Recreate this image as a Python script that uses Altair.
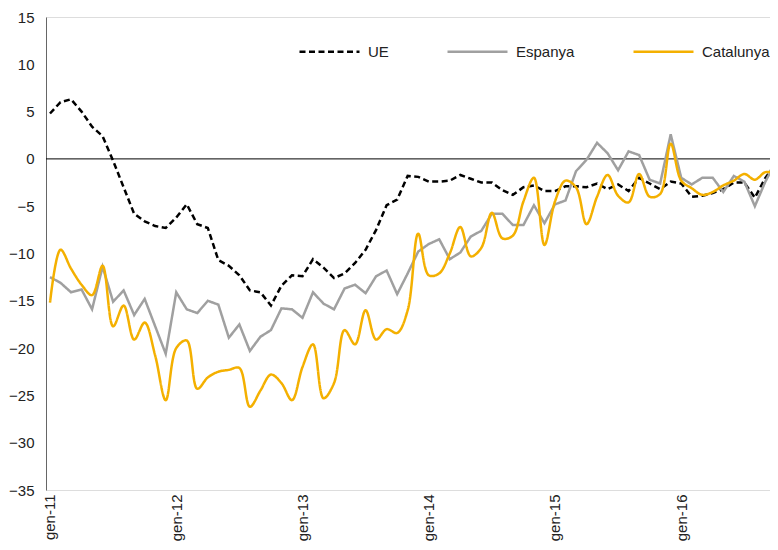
import altair as alt
import pandas as pd

# month index 0 = gen-11
series_names = ["UE", "Espanya", "Catalunya"]
tick_labels = ["gen-11", "gen-12", "gen-13", "gen-14", "gen-15", "gen-16"]
tick_values = [0, 12, 24, 36, 48, 60]

ue = [4.8, 6.0, 6.3, 5.0, 3.4, 2.4, -0.2, -3.0, -5.8, -6.6, -7.1, -7.3,
      -6.2, -4.8, -6.9, -7.3, -10.7, -11.3, -12.3, -13.9, -14.1, -15.5, -13.4, -12.3,
      -12.4, -10.6, -11.5, -12.6, -12.1, -11.0, -9.6, -7.5, -4.9, -4.3, -1.8, -1.9,
      -2.4, -2.4, -2.3, -1.7, -2.1, -2.5, -2.5, -3.3, -3.8, -3.0, -2.8, -3.4,
      -3.4, -2.9, -2.9, -3.0, -2.6, -3.2, -2.7, -3.4, -2.0, -2.6, -3.2, -2.4,
      -2.6, -4.0, -3.9, -3.6, -3.2, -2.5, -2.5, -4.1, -2.0, -0.5]

espanya = [-12.5, -13.1, -14.1, -13.8, -15.9, -11.4, -15.1, -13.9, -16.5, -14.8, -17.7, -20.6,
           -14.1, -15.9, -16.3, -15.0, -15.4, -18.9, -17.5, -20.3, -18.8, -18.1, -15.8, -15.9,
           -16.8, -14.1, -15.3, -15.9, -13.7, -13.3, -14.2, -12.4, -11.8, -14.3, -12.1, -9.8,
           -9.0, -8.5, -10.6, -9.9, -8.2, -7.6, -5.8, -5.8, -7.0, -7.0, -4.9, -6.8,
           -4.8, -4.4, -1.3, -0.1, 1.7, 0.6, -1.2, 0.8, 0.4, -2.2, -2.6, 2.6,
           -2.0, -2.7, -2.0, -2.0, -3.5, -1.8, -2.4, -5.0, -2.4, -0.3]

catalunya = [-15.2, -9.6, -11.6, -13.3, -14.4, -11.3, -17.7, -15.5, -19.1, -17.3, -20.8, -25.5,
             -20.0, -19.2, -24.3, -23.1, -22.5, -22.3, -22.1, -26.2, -24.5, -22.8, -23.7, -25.5,
             -22.0, -19.6, -25.3, -23.7, -18.1, -19.6, -16.0, -19.1, -18.0, -18.4, -16.0, -7.9,
             -12.3, -12.1, -10.0, -7.2, -10.3, -9.4, -5.7, -8.4, -8.1, -4.5, -2.0, -9.1,
             -4.5, -2.3, -3.0, -6.9, -4.0, -1.7, -3.9, -4.6, -1.6, -4.0, -3.7, 1.6,
             -2.3, -3.1, -3.8, -3.5, -2.8, -2.3, -1.6, -2.2, -1.4, -1.5]

rows = []
for name, vals in zip(series_names, [ue, espanya, catalunya]):
    for i, v in enumerate(vals):
        rows.append({"i": i, "v": v, "s": name})
df = pd.DataFrame(rows)

colors = ["#000000", "#A0A0A0", "#F4B000"]
dashes = [[6, 3.5], [1, 0], [1, 0]]

label_expr = "[" + ",".join("'%s'" % t for t in tick_labels) + "][round(datum.value/12)]"

x_enc = alt.X("i:Q",
              scale=alt.Scale(domain=[-0.38, 68.44], nice=False, zero=False),
              axis=alt.Axis(values=tick_values, labelExpr=label_expr, title=None,
                            domain=False, ticks=False, grid=False, labelAngle=-90,
                            labelAlign="right", labelBaseline="middle", labelPadding=4,
                            labelFontSize=15, labelColor="#222222", labelFont="Liberation Sans"))
y_enc = alt.Y("v:Q",
              scale=alt.Scale(domain=[-35, 15], nice=False, zero=False),
              axis=alt.Axis(values=list(range(-35, 16, 5)), title=None, grid=False,
                            ticks=False, domainColor="#666666", domainWidth=1,
                            labelPadding=12, labelFontSize=15, labelColor="#222222",
                            labelFont="Liberation Sans"))

legend = alt.Legend(title=None, orient="none", legendX=252, legendY=3,
                    direction="horizontal", symbolType="stroke", symbolSize=3600,
                    symbolStrokeWidth=2.5, columnPadding=53, labelOffset=7,
                    labelFontSize=15, labelFont="Liberation Sans", labelColor="#222222",
                    padding=0)

color_enc = alt.Color("s:N", scale=alt.Scale(domain=series_names, range=colors),
                      legend=legend, sort=series_names)
dash_enc = alt.StrokeDash("s:N", scale=alt.Scale(domain=series_names, range=dashes),
                          legend=legend, sort=series_names)

base = alt.Chart(df)

zero = alt.Chart(pd.DataFrame({"z": [0]})).mark_rule(color="black", strokeWidth=1).encode(
    y=alt.Y("z:Q", scale=alt.Scale(domain=[-35, 15], nice=False, zero=False)))

lin = base.transform_filter("datum.s != 'Catalunya'").mark_line(
    strokeWidth=2.5, clip=True, interpolate="linear").encode(
    x=x_enc, y=y_enc, color=color_enc, strokeDash=dash_enc,
    order=alt.Order("i:Q"))

cat = base.transform_filter("datum.s == 'Catalunya'").mark_line(
    strokeWidth=2.5, clip=True, interpolate="catmull-rom").encode(
    x=x_enc, y=y_enc, color=color_enc, strokeDash=dash_enc,
    order=alt.Order("i:Q"))

chart = alt.layer(zero, lin, cat).properties(
    width=724, height=473,
    autosize=alt.AutoSizeParams(type="none"),
    padding={"left": 38, "top": 9, "right": 0, "bottom": 52},
).configure_view(stroke=None).configure(font="Liberation Sans")

chart.save("out.html", embed_options={"renderer": "svg", "actions": False})
